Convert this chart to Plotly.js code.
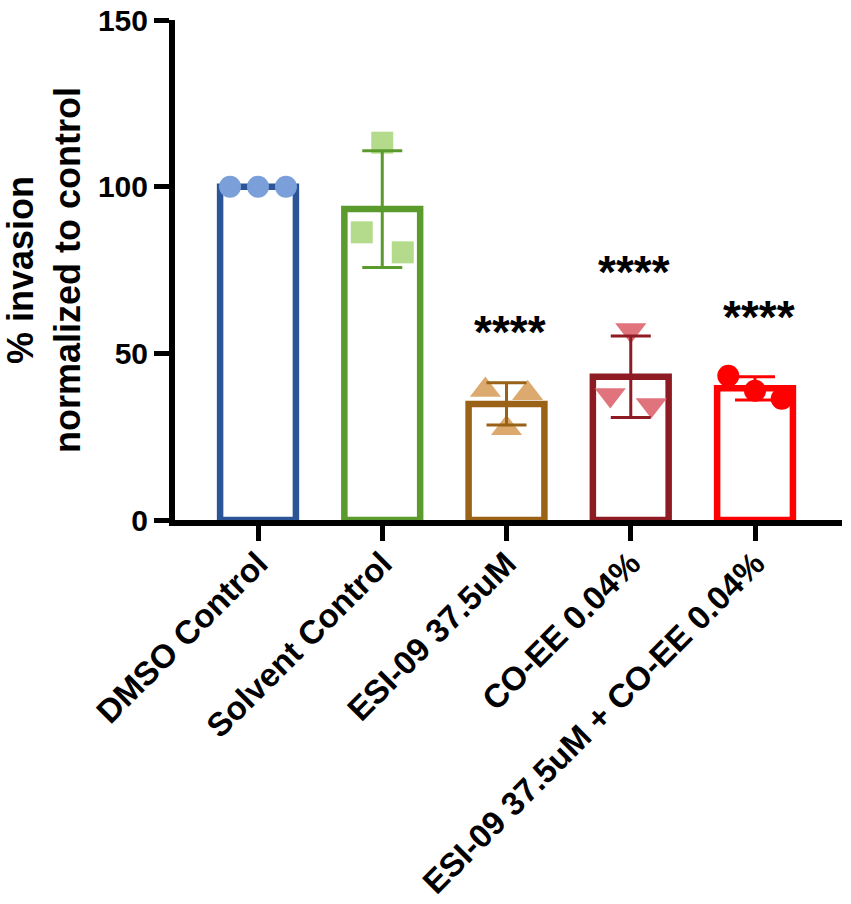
<!DOCTYPE html>
<html>
<head>
<meta charset="utf-8">
<script src="https://cdn.plot.ly/plotly-3.0.1.min.js"></script>
<style>
  html, body { margin: 0; padding: 0; background: #fff; }
  #chart { width: 851px; height: 904px; }
</style>
</head>
<body>
<div id="chart"></div>
<script>
// groups and the three replicate values
var groups = ['DMSO Control', 'Solvent Control', 'ESI-09 37.5uM', 'CO-EE 0.04%', 'ESI-09 37.5uM + CO-EE 0.04%'];
var dmso = [100, 100, 100];
var solvent = [86.3, 113.2, 80.3];
var esi = [39, 27.5, 38];
var coee = [37.5, 57, 34.5];
var combo = [43.3, 38.8, 36.4];
var stars = ['', '', '****', '****', '****'];
var yTicks = [0, 50, 100, 150];
var yTitle = '% invasion<br>normalized to control';

var values = [dmso, solvent, esi, coee, combo];

// styles
var barColors = ['#2b5597', '#5b9a2c', '#9a6217', '#8e1a23', '#ff0000'];
var pointColors = ['#7b9fd8', '#b4db8b', '#dcaa6e', '#e0737c', '#ff0000'];
var symbols = ['circle', 'square', 'triangle-up', 'triangle-down', 'circle'];
var spread = [0.225, 0.165, 0.17, 0.165, 0.215];
var font = 'Liberation Sans, Arial, sans-serif';

function mean(a) {
  return a.reduce(function (s, v) { return s + v; }, 0) / a.length;
}
function sd(a) {
  var m = mean(a);
  var ss = a.reduce(function (s, v) { return s + (v - m) * (v - m); }, 0);
  return Math.sqrt(ss / (a.length - 1));
}

var bars = [];
var points = [];
var errors = [];
var notes = [];

values.forEach(function (vals, i) {
  var m = mean(vals);
  bars.push({
    type: 'bar',
    x: [i],
    y: [m],
    width: 0.61,
    marker: { color: '#ffffff', line: { color: barColors[i], width: 6.5 } },
    hoverinfo: 'skip'
  });
  points.push({
    type: 'scatter',
    mode: 'markers',
    x: vals.map(function (v, j) { return i + (j - 1) * spread[i]; }),
    y: vals,
    cliponaxis: false,
    marker: {
      symbol: symbols[i],
      color: pointColors[i],
      size: symbols[i].indexOf('triangle') === 0 ? 27 : 22,
      line: { width: 0 }
    }
  });
  errors.push({
    type: 'scatter',
    mode: 'markers',
    x: [i],
    y: [m],
    cliponaxis: false,
    marker: { size: 1, opacity: 0 },
    error_y: {
      type: 'data',
      array: [sd(vals)],
      visible: sd(vals) > 0,
      color: barColors[i],
      thickness: 3,
      width: 20
    },
    hoverinfo: 'skip'
  });
  if (stars[i]) {
    notes.push({
      x: i + 0.03,
      y: Math.max.apply(null, vals) + 17.5,
      xref: 'x',
      yref: 'y',
      text: stars[i],
      showarrow: false,
      yanchor: 'middle',
      font: { family: font, size: 46, color: '#000000', weight: 700 }
    });
  }
});

// y axis title as a rotated annotation so its place can be set exactly
notes.push({
  xref: 'paper',
  yref: 'paper',
  x: 0,
  y: 0.5,
  xanchor: 'center',
  yanchor: 'middle',
  xshift: -131,
  textangle: -90,
  text: yTitle,
  showarrow: false,
  font: { family: font, size: 36, color: '#000000', weight: 700 }
});

var layout = {
  width: 851,
  height: 904,
  margin: { l: 175, r: 9, t: 20, b: 384 },
  paper_bgcolor: '#ffffff',
  plot_bgcolor: '#ffffff',
  showlegend: false,
  barmode: 'overlay',
  font: { family: font, color: '#000000' },
  xaxis: {
    range: [-0.668, 4.7],
    tickvals: groups.map(function (g, i) { return i; }),
    ticktext: groups,
    tickangle: -45,
    tickfont: { family: font, size: 33, weight: 700, color: '#000000' },
    ticklabelstandoff: -10,
    showline: true,
    linecolor: '#000000',
    linewidth: 6,
    ticks: 'outside',
    ticklen: 15,
    tickwidth: 5,
    tickcolor: '#000000',
    showgrid: false,
    zeroline: false,
    fixedrange: true
  },
  yaxis: {
    range: [0, 150],
    tickvals: yTicks,
    tickfont: { family: font, size: 30, weight: 700, color: '#000000' },
    showline: true,
    linecolor: '#000000',
    linewidth: 6,
    ticks: 'outside',
    ticklen: 15,
    tickwidth: 5,
    tickcolor: '#000000',
    showgrid: false,
    zeroline: false,
    fixedrange: true
  },
  annotations: notes
};

Plotly.newPlot('chart', bars.concat(points, errors), layout, { displayModeBar: false, staticPlot: true });
</script>
</body>
</html>
